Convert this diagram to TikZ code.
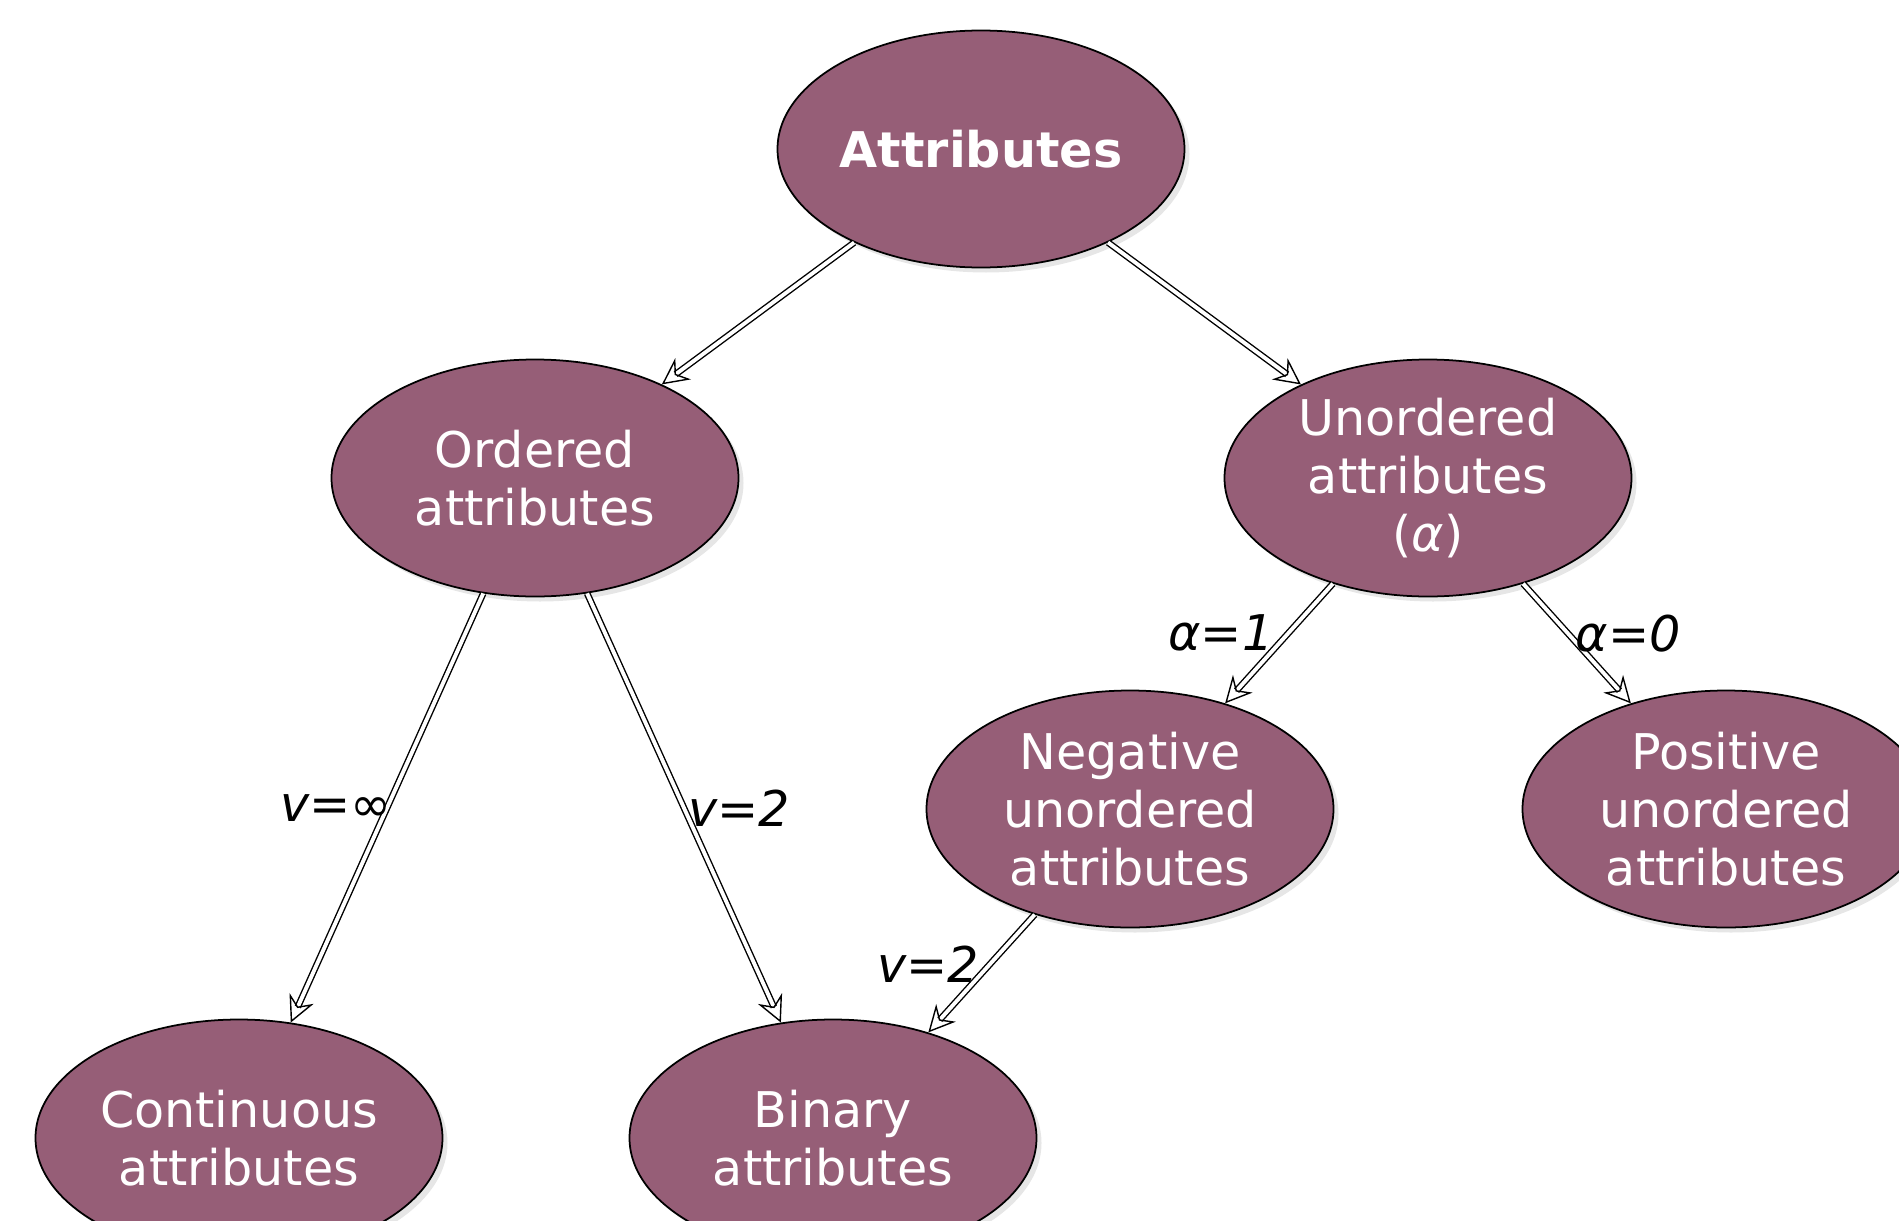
\documentclass[tikz,border=0pt]{standalone}
\usepackage{fontspec}
\setmainfont{DejaVu Sans}
\usetikzlibrary{arrows.meta,shapes.geometric,shadows}
\definecolor{Mauve}{HTML}{965E77}

\begin{document}
\begin{tikzpicture}[
    attr/.style={ellipse,draw=black,line width=.5pt,fill=Mauve,text=white,
                 inner sep=0pt,minimum width=4.07cm,minimum height=2.37cm,
                 align=center,font=\fontsize{14}{16.5}\selectfont,
                 drop shadow={opacity=.2,shadow xshift=.05cm,shadow yshift=-.05cm}},
    arr/.style={double,double distance=1.1pt,line width=.4pt,
                -{Stealth[open,length=7.5pt,width=7.5pt,inset=2.5pt]}},
    lbl/.style={font=\fontsize{14}{16.5}\selectfont\itshape,inner sep=1pt}]
    \useasboundingbox (0,0) rectangle (18.99,-12.21);
    \node[attr,font=\fontsize{14}{16.5}\selectfont\bfseries] (attrs) at (9.81,-1.49) {Attributes};
    \node[attr] (ordered) at (5.35,-4.78) {Ordered\\attributes};
    \node[attr] (unordered) at (14.28,-4.78) {Unordered\\attributes\\({\itshape α})};
    \node[attr] (negative) at (11.30,-8.09) {Negative\\unordered\\attributes};
    \node[attr] (positive) at (17.26,-8.09) {Positive\\unordered\\attributes};
    \node[attr] (continuous) at (2.39,-11.38) {Continuous\\attributes};
    \node[attr] (binary) at (8.33,-11.38) {Binary\\attributes};
    \draw[arr] (attrs) -- (ordered);
    \draw[arr] (attrs) -- (unordered);
    \draw[arr] (ordered) -- node[lbl,pos=.5,left,xshift=2.5pt] (lcont) {v=∞} (continuous);
    \draw[arr] (ordered) -- node[lbl,pos=.5,right] (lbin) {v=2} (binary);
    \draw[arr] (unordered) -- node[lbl,pos=.415,left=3pt] (lneg) {α=1} (negative);
    \draw[arr] (unordered) -- node[lbl,pos=.415,right,xshift=1pt] (lpos) {α=0} (positive);
    \draw[arr] (negative) -- node[lbl,pos=.42,left=2pt] (lnb) {v=2} (binary);
\end{tikzpicture}
\end{document}
